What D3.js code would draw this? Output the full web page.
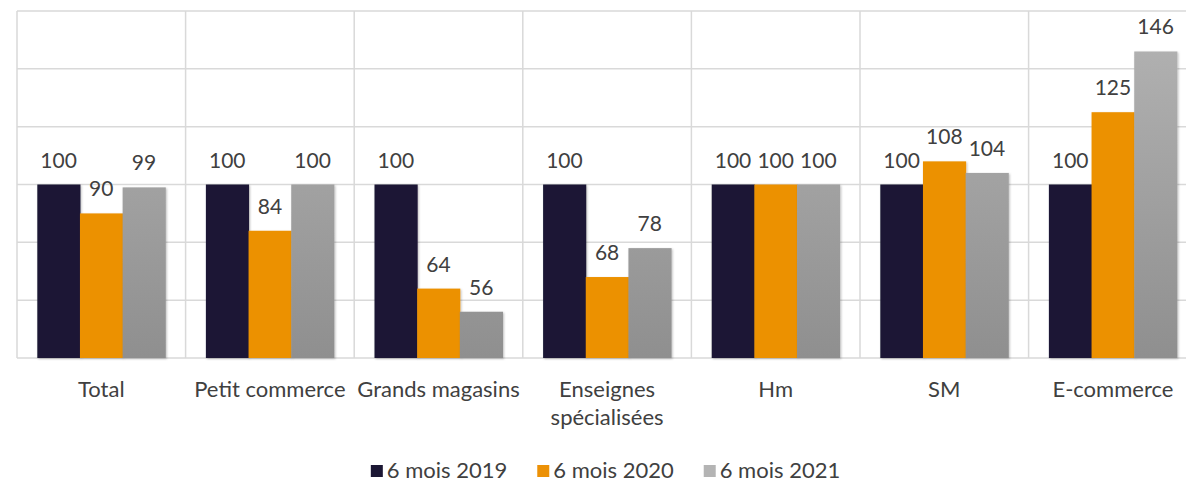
<!DOCTYPE html>
<html><head><meta charset="utf-8">
<script src="https://cdn.jsdelivr.net/npm/d3@7"></script>
<style>
body{margin:0;background:#fff;}
text{font-family:Lato,"Open Sans",sans-serif;fill:#404040;}
</style></head>
<body>
<svg id="c" width="1186" height="482"></svg>
<script>
const categories = [["Total"],["Petit commerce"],["Grands magasins"],["Enseignes","spécialisées"],["Hm"],["SM"],["E-commerce"]];
const seriesNames = ["6 mois 2019","6 mois 2020","6 mois 2021"];
const s2019 = [100,100,100,100,100,100,100];
const s2020 = [90,84,64,68,100,108,125];
const s2021 = [99,100,56,78,100,104,146];
const yTicks = [40,60,80,100,120,140,160];
const colors = ["#1b1734","#ec9106","url(#grayGrad)"];

const svg = d3.select("#c");
const W = 1186;
const left = 17, catW = 168.6;
const catKeys = categories.map((c,i)=>i);
const x0 = d3.scaleBand().domain(catKeys).range([left, left + catW*categories.length]).padding(0);
const x1 = d3.scaleBand().domain([0,1,2]).range([20.3, catW-20.3]).padding(0);
const y = d3.scaleLinear().domain([40,160]).range([358, 11]);

const defs = svg.append("defs");
const g = defs.append("linearGradient").attr("id","grayGrad").attr("gradientUnits","userSpaceOnUse")
  .attr("x1",0).attr("x2",0).attr("y1",y(160)).attr("y2",y(40));
g.append("stop").attr("offset","0%").attr("stop-color","#b4b4b4");
g.append("stop").attr("offset","100%").attr("stop-color","#8f8f8f");
const f = defs.append("filter").attr("id","sh").attr("x","-20%").attr("y","-20%").attr("width","140%").attr("height","140%");
f.append("feDropShadow").attr("dx",1).attr("dy",1).attr("stdDeviation",1.2).attr("flood-color","#000").attr("flood-opacity",0.25);

// horizontal grid
svg.append("g").selectAll("line").data(yTicks).join("line")
  .attr("x1",left).attr("x2",W).attr("y1",d=>y(d)).attr("y2",d=>y(d))
  .attr("stroke","#d9d9d9").attr("stroke-width",1.5);
// vertical grid
const vx = catKeys.map(k=>x0(k)).concat([x0(categories.length-1)+x0.bandwidth()]);
svg.append("g").selectAll("line").data(vx).join("line")
  .attr("x1",d=>d).attr("x2",d=>d).attr("y1",y(160)).attr("y2",y(40))
  .attr("stroke","#d9d9d9").attr("stroke-width",1.5);

const series = [s2019,s2020,s2021];
const bars = svg.append("g");
series.forEach((s,si)=>{
  bars.selectAll(".b"+si).data(s).join("rect").attr("class","b"+si)
    .attr("x",(d,i)=>x0(i)+x1(si)).attr("width",x1.bandwidth()+0.5)
    .attr("y",d=>y(d)).attr("height",d=>y(40)-y(d))
    .attr("fill",colors[si]).attr("filter","url(#sh)");
});
series.forEach((s,si)=>{
  svg.append("g").selectAll("text").data(s).join("text")
    .attr("x",(d,i)=>x0(i)+x1(si)+x1.bandwidth()/2).attr("y",d=>y(d)-17)
    .attr("text-anchor","middle").attr("font-size",21).text(d=>d);
});

// category labels
const cl = svg.append("g").selectAll("text").data(categories).join("text")
  .attr("text-anchor","middle").attr("font-size",22)
  .attr("x",(d,i)=>x0(i)+x0.bandwidth()/2).attr("y",397);
cl.each(function(d){
  d3.select(this).selectAll("tspan").data(d).join("tspan")
    .attr("x",d3.select(this).attr("x")).attr("dy",(t,j)=>j?28:0).text(t=>t);
});

// legend
const lg = svg.append("g");
let lx = 0;
seriesNames.forEach((n,i)=>{
  const it = lg.append("g");
  it.append("rect").attr("x",0).attr("y",-13).attr("width",12).attr("height",12).attr("fill",colors[i]);
  const t = it.append("text").attr("x",16).attr("y",0).attr("font-size",22).text(n);
  const w = 16 + t.node().getComputedTextLength();
  it.attr("transform",`translate(${lx},0)`);
  lx += w + 30;
});
const totalW = lx - 30;
lg.attr("transform",`translate(${605.5 - totalW/2},478)`);
</script>
</body></html>
